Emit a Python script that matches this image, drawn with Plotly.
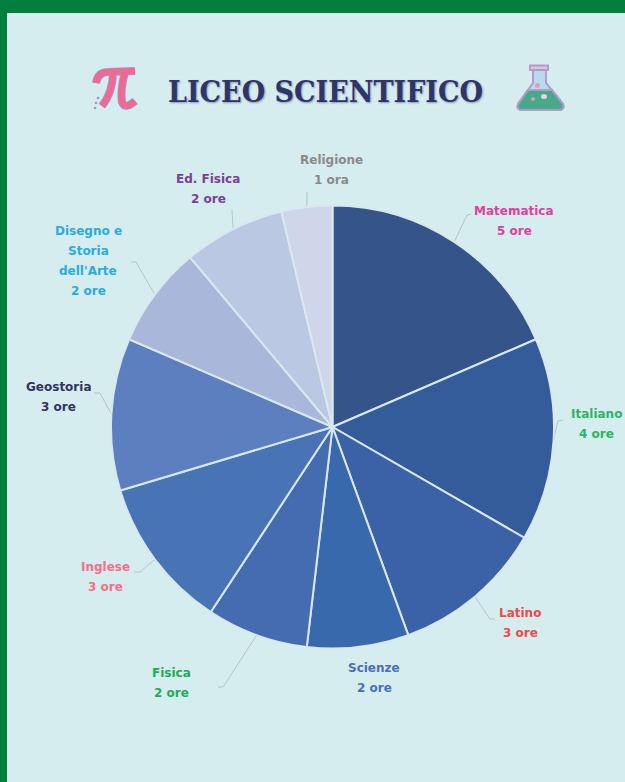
import math
import plotly.graph_objects as go

# --- data ---
subjects = ["Matematica", "Italiano", "Latino", "Scienze", "Fisica", "Inglese",
            "Geostoria", "Disegno e<br>Storia<br>dell'Arte", "Ed. Fisica", "Religione"]
hours = [5, 4, 3, 2, 2, 3, 3, 2, 2, 1]
hour_labels = ["5 ore", "4 ore", "3 ore", "2 ore", "2 ore", "3 ore", "3 ore", "2 ore", "2 ore", "1 ora"]
slice_colors = ["#34548a", "#345c9a", "#3b62a6", "#3869ac", "#456cb0", "#4874b6",
                "#5c80bf", "#a9b8da", "#bac8e3", "#cfd6ea"]
label_colors = ["#e0409a", "#2fb35f", "#f04a4a", "#4a6fb5", "#1faa5a", "#f4708a",
                "#33335f", "#29abe2", "#7b3f98", "#8a8a8a"]
title_text = "LICEO SCIENTIFICO"

# --- layout (pixels of the 625x782 page) ---
W, H = 625, 782
CX, CY, R = 332.5, 427, 221.5
BG = "#d5edef"
GREEN = "#027f3d"
LABEL_FONT = "DejaVu Sans"
LABEL_SIZE = 12
LINE_GAP = 20
label_centres = [(514, 221), (596, 424), (520, 623), (374, 678), (171, 683),
                 (105, 577), (58, 397), (88, 261), (208, 189), (331, 170)]
leader_paths = [[(467, 215), (471, 214)], [(558, 421), (563, 420)], [(490, 619), (495, 619)], None,
                [(223, 687), (218, 687)], [(140, 572), (134, 572)], [(100, 393), (94, 393)],
                [(136, 262), (131, 262)], [(232, 210)], [(307, 192)]]

fig = go.Figure()
fig.add_trace(go.Scatter(x=[0, W], y=[0, H], mode="markers", marker=dict(opacity=0),
                         hoverinfo="skip", showlegend=False))
fig.add_trace(go.Pie(
    values=hours, labels=[s.replace("<br>", " ") for s in subjects], sort=False, direction="clockwise", rotation=0,
    textinfo="none", hoverinfo="label+value", showlegend=False,
    marker=dict(colors=slice_colors, line=dict(color="#d9e8ef", width=2)),
    domain=dict(x=[(CX - R) / W, (CX + R) / W], y=[1 - (CY + R) / H, 1 - (CY - R) / H]),
))

shapes = [
    dict(type="rect", x0=0, x1=W, y0=0, y1=13, fillcolor=GREEN, line_width=0, layer="below"),
    dict(type="rect", x0=0, x1=7, y0=0, y1=H, fillcolor=GREEN, line_width=0, layer="below"),
]

# leader lines: start on the slice's mid-angle
total = sum(hours)
cum = 0
annotations = []
for i, h in enumerate(hours):
    ang = 2 * math.pi * (cum + h / 2) / total
    cum += h
    if leader_paths[i]:
        px, py = CX + R * math.sin(ang), CY - R * math.cos(ang)
        d = f"M{px:.1f},{py:.1f}" + "".join(f"L{x},{y}" for x, y in leader_paths[i])
        shapes.append(dict(type="path", path=d, line=dict(color="#bcc2c4", width=1), layer="below"))
    lines = subjects[i].split("<br>") + [hour_labels[i]]
    lx, ly = label_centres[i]
    for j, t in enumerate(lines):
        annotations.append(dict(
            x=lx, y=ly + (j - (len(lines) - 1) / 2) * LINE_GAP, text=t, showarrow=False,
            xanchor="center", yanchor="middle",
            font=dict(family=LABEL_FONT, size=LABEL_SIZE, color=label_colors[i], weight=600)))

# title
annotations.append(dict(x=325.5, y=91, text=title_text, showarrow=False, xanchor="center", yanchor="middle",
                        font=dict(family="DejaVu Serif Condensed, DejaVu Serif", size=30, color="#2f3566", weight=700,
                                  shadow="1px 1px 2px #8d92b8")))

# pi icon
PI_OUT = "#b08fc4"
PI_PINK = "#ee6a92"
pi_strokes = [
    "M96,83 Q98,72 108,72 L135,71",
    "M113,72 Q113,92 102,106",
    "M125,72 Q120,90 122,102 Q125,110 135,101",
]
for colour, width in [(PI_OUT, 8), (PI_PINK, 6)]:
    for d in pi_strokes:
        shapes.append(dict(type="path", path=d, line=dict(color=colour, width=width)))
for dx, dy in [(95, 108), (96, 103), (98, 98)]:
    shapes.append(dict(type="circle", x0=dx - 1.3, x1=dx + 1.3, y0=dy - 1.3, y1=dy + 1.3,
                       fillcolor=PI_OUT, line_width=0))

# flask icon
OUT = dict(color="#b79ac9", width=2)
shapes += [
    dict(type="path", path="M533,70 L533,83 L518,104 Q516,110 522,110 L559,110 Q565,110 563,104 L546,83 L546,70 Z",
         fillcolor="#b5dcee", line=OUT),
    dict(type="path", path="M528,90 L552,90 L563,104 Q565,110 559,110 L522,110 Q516,110 518,104 Z",
         fillcolor="#45a98a", line=OUT),
    dict(type="path", path="M530,65.5 L548,65.5 L548,70 L530,70 Z", fillcolor="#d9c6e0", line=OUT),
    dict(type="circle", x0=535, x1=540, y0=83, y1=88, fillcolor="#e69ab5", line_width=0),
    dict(type="circle", x0=541, x1=547, y0=94, y1=99, fillcolor="#e3d5e3", line_width=0),
    dict(type="circle", x0=531, x1=535, y0=97, y1=101, fillcolor="#e69ab5", line_width=0),
]

fig.update_layout(
    width=W, height=H, margin=dict(l=0, r=0, t=0, b=0), autosize=False,
    paper_bgcolor=BG, plot_bgcolor=BG,
    xaxis=dict(range=[0, W], visible=False, fixedrange=True),
    yaxis=dict(range=[H, 0], visible=False, fixedrange=True),
    shapes=shapes, annotations=annotations, showlegend=False,
)
fig.write_html("out.html", config=dict(displayModeBar=False),
               post_script="document.body.style.margin='0';document.documentElement.style.overflow='hidden';")
